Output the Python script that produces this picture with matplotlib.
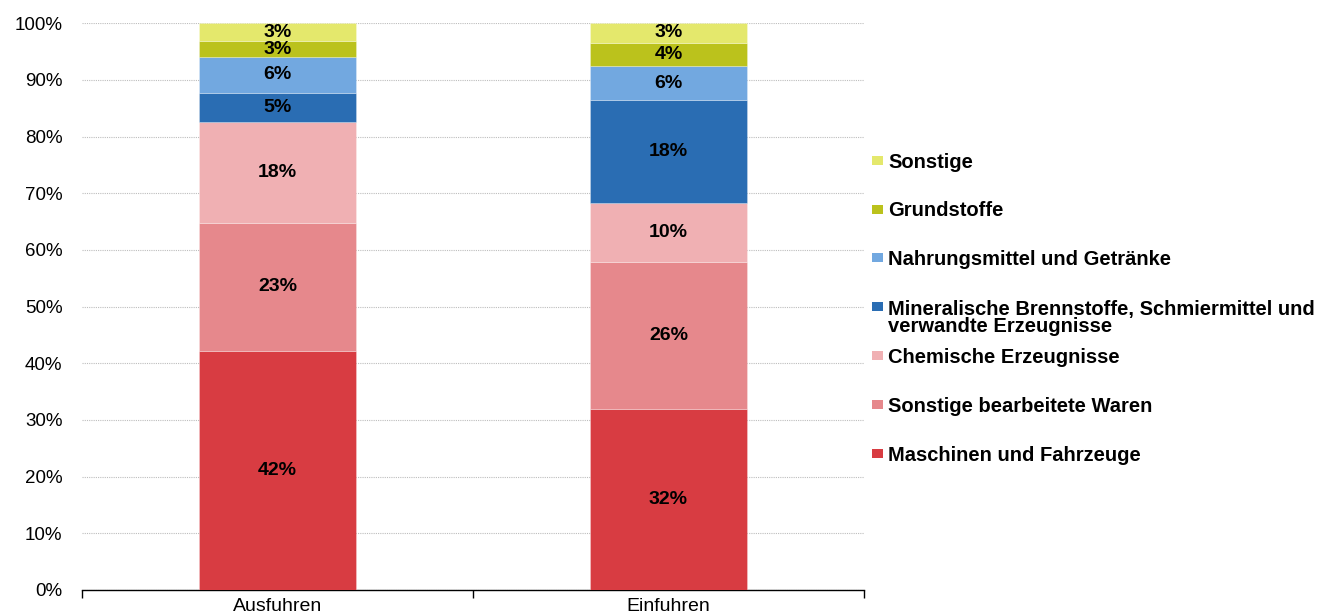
import matplotlib
matplotlib.use("Agg")
import matplotlib.pyplot as plt
from matplotlib.patches import Rectangle
import numpy as np

plt.rcParams['font.family'] = ['Liberation Sans', 'DejaVu Sans']

# Trade flows and their composition by commodity group (share in %)
flows = ["Ausfuhren", "Einfuhren"]
groups = [
    "Maschinen und Fahrzeuge",
    "Sonstige bearbeitete Waren",
    "Chemische Erzeugnisse",
    "Mineralische Brennstoffe, Schmiermittel und\nverwandte Erzeugnisse",
    "Nahrungsmittel und Getränke",
    "Grundstoffe",
    "Sonstige",
]
ausfuhren = [42.2, 22.6, 17.7, 5.2, 6.4, 2.7, 3.2]
einfuhren = [32.0, 25.8, 10.5, 18.2, 5.9, 4.2, 3.4]
colors = ["#D83C42", "#E6888C", "#F0B0B3", "#2A6DB3", "#72A8E0", "#BBC21C", "#E4E86C"]
y_ticks = [0, 10, 20, 30, 40, 50, 60, 70, 80, 90, 100]

W, H = 1336, 615
fig = plt.figure(figsize=(W / 100, H / 100), dpi=100)
ax = fig.add_axes([82 / W, 1 - 590 / H, (864 - 82) / W, (590 - 23.3) / H])

values = np.array([ausfuhren, einfuhren])  # shape (flows, groups)
x = np.arange(len(flows))
bottom = np.zeros(len(flows))
for gi, (name, col) in enumerate(zip(groups, colors)):
    vals = values[:, gi]
    ax.bar(x, vals, width=0.4, bottom=bottom, color=col,
           edgecolor=(1, 1, 1, 0.3), linewidth=0.6, zorder=3)
    for xi, v, b in zip(x, vals, bottom):
        ax.text(xi, b + v / 2, f"{v:.0f}%", ha="center", va="center",
                fontsize=14, fontweight="bold", color="black", zorder=4)
    bottom += vals

ax.set_xlim(-0.5, 1.5)
ax.set_ylim(0, 100)
ax.set_yticks(y_ticks)
ax.set_yticklabels([f"{t}%" for t in y_ticks])
ax.tick_params(axis="y", length=0, pad=14, labelsize=13.5)
ax.set_xticks(x)
ax.set_xticklabels(flows)
ax.set_xticks([-0.5, 0.5, 1.5], minor=True)
ax.tick_params(axis="x", which="major", length=0, pad=6, labelsize=14)
ax.tick_params(axis="x", which="minor", length=6, width=1, direction="out", color="black")

for s in ["top", "right", "left"]:
    ax.spines[s].set_visible(False)
ax.spines["bottom"].set_color("black")
ax.spines["bottom"].set_linewidth(1)

ax.yaxis.grid(True, linestyle=(0, (1, 1)), color="#BDBDBD", linewidth=0.8, zorder=0)
ax.set_axisbelow(True)

# Legend drawn on the figure, top entry = top stack segment
fs = 14.5
fs_px = fs * 100 / 72
line_px = 18.4
row0, step = 160.3, 48.85
for i, gi in enumerate(reversed(range(len(groups)))):
    yc = row0 + i * step
    label = groups[gi]
    extra = (label.count("\n")) * line_px
    fig.patches.append(Rectangle((872 / W, 1 - (yc + 4.5) / H), 11 / W, 9 / H,
                                 transform=fig.transFigure, facecolor=colors[gi],
                                 edgecolor="none"))
    fig.text(888 / W, 1 - (yc + 0.716 * fs_px / 2 + extra) / H, label,
             ha="left", va="baseline", fontsize=fs, fontweight="bold",
             linespacing=line_px / fs_px, color="black")

fig.savefig("out.png", dpi=100)
